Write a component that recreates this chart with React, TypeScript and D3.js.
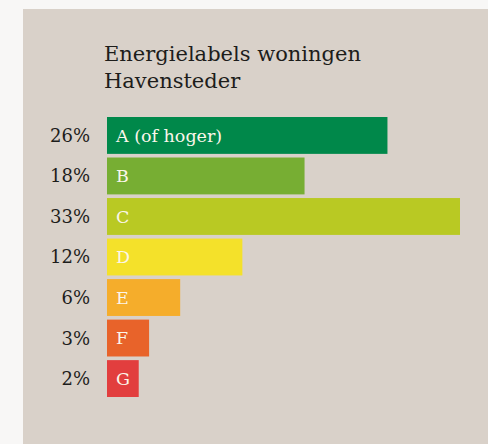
import React, { useRef, useEffect } from 'react';
import * as d3 from 'd3';

const labels = ['A (of hoger)', 'B', 'C', 'D', 'E', 'F', 'G'];
const shares = [26, 18, 33, 12, 6, 3, 2];
const colors = ['#00884a', '#77ae33', '#b9c923', '#f4e12a', '#f5ad2b', '#e8632a', '#e23e3e'];
const titleLines = ['Energielabels woningen', 'Havensteder'];

const App = () => {
  const svgRef = useRef<SVGSVGElement>(null);

  useEffect(() => {
    const width = 488;
    const height = 444;
    const svg = d3.select(svgRef.current).attr('width', width).attr('height', height);
    svg.selectAll('*').remove();

    // page background + beige panel
    svg.append('rect').attr('width', width).attr('height', height).attr('fill', '#f8f7f6');
    svg.append('rect')
      .attr('x', 23).attr('y', 9)
      .attr('width', width - 23).attr('height', height - 9)
      .attr('fill', '#d9d1c9');

    const font = "'DejaVu Serif', 'Liberation Serif', serif";

    svg.append('g').selectAll('text')
      .data(titleLines)
      .join('text')
      .attr('x', 104)
      .attr('y', (d, i) => 61 + i * 27)
      .attr('fill', '#1d1d1b')
      .style('font-family', font)
      .style('font-size', '21px')
      .text(d => d);

    // bars have a small minimum width, hence the offset
    const x = d3.scaleLinear().domain([0, 33]).range([11, 353]);
    const y = d3.scaleBand().domain(labels).range([117, 397]).paddingInner(0.09);
    const left = 107;

    const rows = svg.append('g').selectAll('g')
      .data(labels)
      .join('g');

    rows.append('rect')
      .attr('x', left)
      .attr('y', d => y(d))
      .attr('width', (d, i) => x(shares[i]))
      .attr('height', y.bandwidth())
      .attr('fill', (d, i) => colors[i]);

    rows.append('text')
      .attr('x', left + 9)
      .attr('y', d => y(d) + y.bandwidth() / 2)
      .attr('dy', '0.36em')
      .attr('fill', '#fbf6ea')
      .style('font-family', font)
      .style('font-size', '17.5px')
      .text(d => d);

    rows.append('text')
      .attr('x', 90)
      .attr('y', d => y(d) + y.bandwidth() / 2)
      .attr('dy', '0.36em')
      .attr('text-anchor', 'end')
      .attr('fill', '#1d1d1b')
      .style('font-family', font)
      .style('font-size', '18px')
      .text((d, i) => `${shares[i]}%`);
  }, []);

  return (
    <div style={{ position: 'absolute', left: 0, top: 0 }}>
      <svg ref={svgRef} style={{ display: 'block' }}></svg>
    </div>
  );
};

export default App;
